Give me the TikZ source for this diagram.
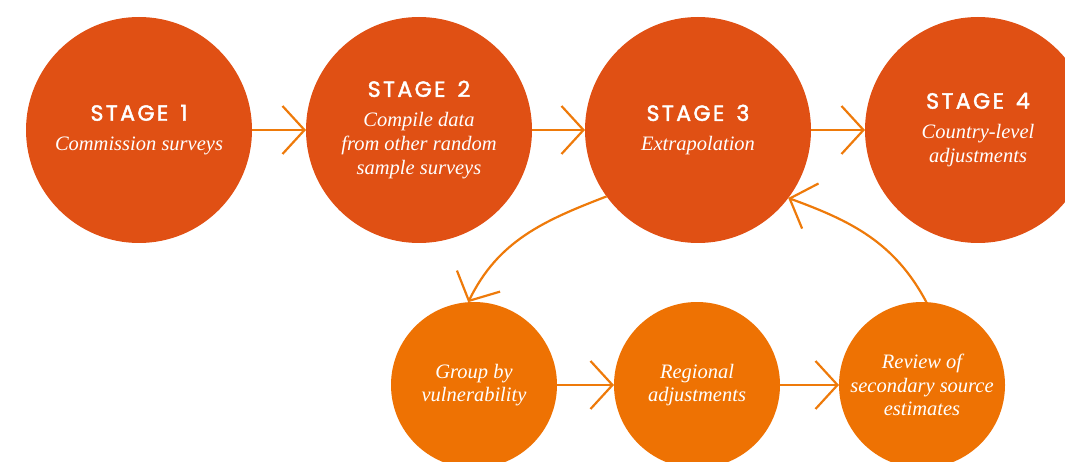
\documentclass[tikz,border=0pt]{standalone}
\usepackage{fontspec}
\setmainfont{Liberation Serif}
\newfontfamily\stagefont{Poppins}[LetterSpace=11,FakeBold=2]
\usetikzlibrary{arrows.meta}
\definecolor{bigfill}{HTML}{E05014}
\definecolor{smallfill}{HTML}{EE7203}
\definecolor{arrcol}{HTML}{EE7A0A}
\newcommand{\stagelbl}[1]{{\stagefont\upshape\fontsize{22}{24}\selectfont STAGE\hspace{0.55em}#1}}
\begin{document}
\begin{tikzpicture}[x=1pt,y=-1pt,
  bigc/.style={circle,fill=bigfill,minimum size=226pt,inner sep=0pt,outer sep=0pt,
    text=white,align=center,font=\fontsize{20.5}{24}\selectfont\itshape},
  smallc/.style={circle,fill=smallfill,minimum size=166pt,inner sep=0pt,outer sep=0pt,
    text=white,align=center,font=\fontsize{20.5}{23.5}\selectfont\itshape},
  conn/.style={draw=arrcol,line width=2.2pt,-{Straight Barb[length=22pt,width=48pt]}}]
\useasboundingbox (0,0) rectangle (1065,462);
\clip (0,0) rectangle (1065,462);
\node[bigc] (s1) at (139,130) {\stagelbl{1}\\[6pt]Commission surveys};
\node[bigc] (s2) at (419,130) {\stagelbl{2}\\[6pt]Compile data\\from other random\\sample surveys};
\node[bigc] (s3) at (698,130) {\stagelbl{3}\\[6pt]Extrapolation};
\node[bigc] (s4) at (978,130) {\stagelbl{4}\\[6pt]Country-level\\adjustments};
\node[smallc] (g) at (474,385) {Group by\\vulnerability};
\node[smallc] (r) at (697,385) {Regional\\adjustments};
\node[smallc] (v) at (922,385) {Review of\\secondary source\\estimates};
\draw[conn] (s1) -- (s2);
\draw[conn] (s2) -- (s3);
\draw[conn] (s3) -- (s4);
\draw[conn] (g) -- (r);
\draw[conn] (r) -- (v);
\draw[conn] (s3.216) to[out=201,in=64] (g.94);
\draw[conn] (v.87) to[out=118,in=-20] (s3.323);
\end{tikzpicture}
\end{document}
